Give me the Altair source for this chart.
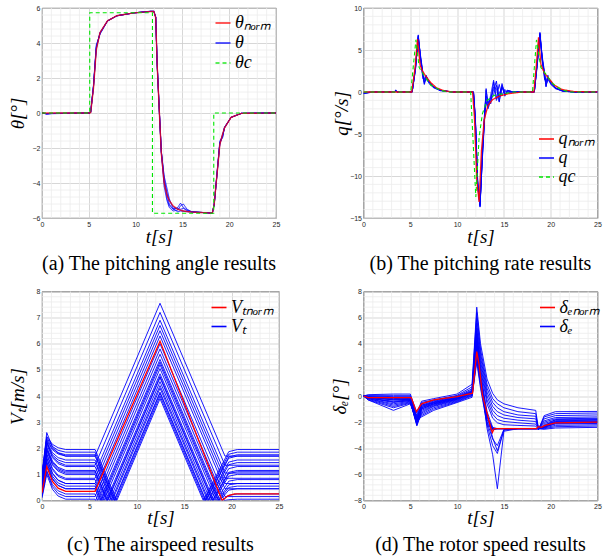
import altair as alt
import pandas as pd

SERIF = "Liberation Serif"
SANS = "Liberation Sans"
BLUE = "#0000ff"
RED = "#ff0000"
GREEN = "#00e600"

# ---------------- (a) pitching angle ----------------
a_names = ["θₙₒᵣₘ", "θ", "θc"]
a_t = [0, 0.5, 1.0, 5.1, 5.2, 5.5, 5.8, 6.2, 7.0, 8.0, 9.8, 11.6, 11.95, 12.15, 12.3,
       12.55, 12.75, 13.05, 13.35, 13.6, 14.0, 14.5, 14.8, 15.1, 15.5, 16.0, 18.2, 18.4,
       18.7, 19.0, 19.3, 19.5, 20.2, 21.3, 25]
a_norm = [0, 0, 0, 0, 0.03, 1.4, 3.6, 4.6, 5.27, 5.56, 5.72, 5.8, 5.8, 5.45, 2.8,
          -0.1, -2.3, -4.0, -4.7, -5.0, -5.3, -5.5, -5.55, -5.6, -5.63, -5.66, -5.72, -5.2,
          -3.5, -1.8, -1.2, -0.85, -0.25, -0.02, 0]
a_blue = [
    [0, -0.06, -0.04, 0, 0.05, 1.6, 3.9, 4.5, 5.25, 5.55, 5.72, 5.82, 5.82, 5.5, 2.9,
     0.0, -2.2, -3.7, -4.6, -5.0, -5.35, -5.5, -5.56, -5.6, -5.63, -5.66, -5.72, -5.25,
     -3.4, -1.6, -1.35, -0.8, -0.25, -0.02, 0],
    [0, -0.04, -0.02, 0, 0.04, 1.5, 3.8, 4.55, 5.26, 5.56, 5.72, 5.81, 5.81, 5.48, 2.85,
     -0.05, -2.25, -3.9, -4.9, -5.3, -5.5, -5.4, -5.15, -5.4, -5.55, -5.65, -5.72, -5.22,
     -3.45, -1.7, -1.25, -0.85, -0.25, -0.02, 0],
    [0, -0.05, -0.03, 0, 0.04, 1.5, 3.7, 4.6, 5.27, 5.56, 5.72, 5.8, 5.8, 5.46, 2.8,
     -0.1, -2.3, -4.2, -5.0, -5.4, -5.6, -5.55, -5.3, -5.2, -5.5, -5.64, -5.72, -5.2,
     -3.5, -1.75, -1.2, -0.85, -0.25, -0.02, 0],
    [0, -0.03, -0.02, 0, 0.03, 1.45, 3.65, 4.6, 5.27, 5.56, 5.72, 5.8, 5.8, 5.47, 2.8,
     -0.1, -2.2, -3.6, -4.3, -4.9, -5.45, -5.65, -5.6, -5.62, -5.64, -5.66, -5.72, -5.2,
     -3.5, -1.8, -1.3, -0.85, -0.25, -0.02, 0],
    [0, -0.05, -0.03, 0, 0.04, 1.55, 3.75, 4.55, 5.26, 5.55, 5.72, 5.81, 5.81, 5.47, 2.85,
     -0.05, -2.25, -3.9, -4.6, -5.2, -5.5, -5.45, -5.5, -5.45, -5.58, -5.65, -5.72, -5.22,
     -3.5, -1.7, -1.4, -0.82, -0.25, -0.02, 0],
]
a_cmd_t = [0, 5.1, 5.1, 11.8, 11.8, 18.35, 18.35, 25]
a_cmd_v = [0, 0, 5.73, 5.73, -5.73, -5.73, 0, 0]

# ---------------- (b) pitching rate ----------------
b_names = ["qₙₒᵣₘ", "q", "qc"]
b_norm_t = [0, 5.15, 5.5, 5.77, 6.05, 6.3, 6.7, 7.2, 7.8, 8.6, 9.5, 11.65, 11.85, 12.1, 12.35,
            12.6, 12.9, 13.3, 13.8, 14.5, 15.5, 17.0, 18.2, 18.45, 18.7, 18.95, 19.3, 19.8,
            20.4, 21.2, 22.5, 25]
b_norm_v = [0, 0, 2.8, 6.3, 3.2, 2.5, 1.8, 1.1, 0.5, 0.15, 0, 0, -3.0, -10.5, -13.1,
            -7.0, -3.3, -1.6, -0.9, -0.5, -0.2, 0, 0, 3.0, 6.5, 3.3, 2.3, 1.6,
            0.8, 0.3, 0.05, 0]
b_t = [0, 0.3, 1.0, 3.3, 3.45, 3.6, 5.2, 5.55, 5.85, 6.1, 6.35, 6.5, 6.7, 7.0, 7.5, 8.2, 9.5,
       11.75, 11.95, 12.2, 12.45, 12.7, 12.95, 13.1, 13.3, 13.6, 13.9, 14.2, 14.5, 14.8, 15.1,
       15.4, 16.0, 18.25, 18.55, 18.85, 19.1, 19.35, 19.5, 19.7, 20.0, 20.5, 21.3, 22.5, 25]
b_blue = [
    [-0.2, -0.15, 0, 0, 0.25, 0, 0, 3.0, 6.8, 4.0, 2.0, 1.0, 1.9, 1.3, 0.6, 0.2, 0,
     0, -3.5, -11, -13.7, -7.5, -2.5, 0.4, -1.6, -0.6, 0.2, 1.3, -1.1, 1.0, -0.5, 0.2, 0,
     0, 3.5, 7.1, 4.0, 2.0, 0.6, 1.8, 1.2, 0.5, 0.15, 0, 0],
    [-0.1, -0.1, 0, 0, 0.1, 0, 0, 2.6, 6.5, 4.3, 2.3, 1.6, 1.7, 1.2, 0.6, 0.2, 0,
     0, -3.0, -10.5, -13.3, -8.0, -3.0, -1.2, -2.0, -1.0, -0.3, 0.8, -0.6, 0.5, -0.2, 0.1, 0,
     0, 3.0, 6.8, 4.2, 2.3, 1.2, 1.6, 1.0, 0.45, 0.1, 0, 0],
    [-0.15, -0.1, 0.05, 0, 0.15, 0, 0, 2.8, 6.6, 3.8, 1.6, 1.4, 2.0, 1.0, 0.5, 0.15, 0,
     0, -3.2, -10.8, -13.5, -7.0, -2.2, -0.5, -1.0, -1.4, 1.2, -0.8, 0.9, -0.4, 0.3, -0.1, 0,
     0, 3.2, 6.9, 3.6, 1.5, 1.3, 2.0, 0.9, 0.4, 0.1, 0, 0],
    [-0.1, 0, 0, 0.05, 0.2, 0.05, 0, 2.7, 6.4, 4.1, 2.1, 1.2, 1.5, 1.1, 0.55, 0.2, 0,
     0, -3.3, -10.9, -13.4, -7.2, -2.8, -0.8, -1.8, -0.3, 1.4, -1.0, -0.2, 0.6, -0.3, 0.1, 0,
     0, 3.3, 6.6, 3.9, 1.8, 0.9, 1.4, 1.1, 0.45, 0.1, 0, 0],
    [-0.2, -0.1, 0, 0, 0.1, 0, 0, 2.9, 6.7, 3.9, 1.8, 0.9, 1.8, 1.2, 0.6, 0.2, 0,
     0, -3.4, -11.2, -13.6, -7.8, -2.6, 0.2, -1.3, -0.9, 0.6, 0.4, -1.2, 0.8, 0.0, 0.2, 0,
     0, 3.4, 7.0, 3.8, 2.1, 0.7, 1.7, 1.3, 0.5, 0.15, 0, 0],
]
b_cmd_t = [0, 5.05, 5.6, 5.95, 6.45, 7.2, 8.25, 9.0, 11.45, 12.0, 12.35, 12.7, 13.2, 13.95,
           15.0, 16.0, 18.05, 18.48, 18.95, 19.5, 20.2, 21.1, 22.0, 25]
b_cmd_v = [0, 0, 6.2, 2.9, 2.0, 0.8, 0.2, 0, 0, -12.5, -5.4, -2.6, -1.0, -0.4,
           -0.2, 0, 0, 6.2, 2.9, 2.1, 1.0, 0.3, 0, 0]

# ---------------- (c) airspeed ----------------
c_names = ["Vₜₙₒᵣₘ", "Vₜ"]
c_norm_t = [0, 0.5, 1.1, 1.7, 2.5, 5.6, 12.45, 19.0, 19.6, 20.3, 25]
c_norm_v = [0.3, 1.3, 0.73, 0.47, 0.35, 0.35, 6.1, 0, 0.18, 0.25, 0.25]
# one entry per blue run
c_start = [0.9, 0.75, 0.6, 0.5, 0.4, 0.3, 0.15,
           0.2, 0.3, 0.35, 0.4, 0.5, 0.55, 0.6, 0.65, 0.7, 0.8, 0.85, 0.9, 0.95, 1.0, 1.05, 0.1]
c_bump = [2.6, 2.25, 1.95, 1.8, 1.6, 1.45, 1.1,
          1.15, 1.35, 1.5, 1.65, 1.75, 1.9, 2.0, 2.05, 2.15, 2.2, 2.25, 2.3, 2.35, 2.4, 2.45, 1.0]
c_mid1 = [2.05, 1.7, 1.4, 1.23, 1.03, 0.85, 0.53,
          0.61, 0.81, 0.93, 1.05, 1.18, 1.36, 1.46, 1.51, 1.64, 1.75, 1.83, 1.94, 1.99, 2.07, 2.15, 0.43]
c_mid2 = [1.82, 1.47, 1.17, 0.97, 0.77, 0.58, 0.27,
          0.37, 0.57, 0.67, 0.78, 0.92, 1.12, 1.22, 1.27, 1.41, 1.55, 1.64, 1.78, 1.83, 1.92, 2.02, 0.17]
c_plateau = [1.7, 1.35, 1.05, 0.85, 0.65, 0.45, 0.15,
             0.25, 0.45, 0.55, 0.65, 0.8, 1.0, 1.1, 1.15, 1.3, 1.45, 1.55, 1.7, 1.75, 1.85, 1.95, 0.05]
c_dip = [None] * 7 + [5.89, 6.13, 6.25, 6.36, 6.54, 6.78, 6.89, 6.95, 7.13, 7.31, 7.42, 7.6,
                      7.66, 7.78, 7.89, 5.66]
c_peak = [7.55, 7.2, 6.9, 6.7, 6.5, 6.3, 6.0,
          5.6, 5.4, 5.3, 5.2, 5.05, 4.85, 4.75, 4.7, 4.55, 4.4, 4.3, 4.15, 4.1, 4.0, 3.9, 5.8]
c_zero = [None] * 7 + [19.01, 18.77, 18.65, 18.54, 18.36, 18.12, 18.01, 17.95, 17.77, 17.59,
                       17.48, 17.3, 17.24, 17.12, 17.01, 19.24]
c_knee = [None] * 7 + [0.2, 0.4, 0.5, 0.6, 0.74, 0.93, 1.03, 1.08, 1.22, 1.37, 1.47, 1.62,
                       1.67, 1.77, 1.87, 0.03]

# ---------------- (d) elevator / rotor ----------------
d_names = ["δₑₙₒᵣₘ", "δₑ"]
d_norm_t = [0, 0.5, 5.1, 5.65, 6.2, 7.5, 10, 11.65, 12.1, 12.35, 12.7, 13.6, 13.77, 13.95,
            18.5, 18.65, 19.0, 19.4, 20.5, 25]
d_norm_v = [0, -0.12, -0.12, -1.2, -0.6, -0.3, -0.05, 0.22, 3.4, 2.4, 0.1, -2.45, -2.8, -2.5,
            -2.5, -2.35, -2.4, -2.25, -2.05, -2.0]
d_t = [0, 0.5, 3.2, 5.0, 5.7, 6.2, 7.5, 10.0, 11.6, 12.1, 12.5, 13.2, 13.8, 14.3, 15.0, 16.5,
       18.4, 18.7, 19.3, 20.5, 25]
d_blue = [
    [0, 0.1, 0.15, 0.15, -1.3, -0.4, -0.2, 0.15, 0.9, 6.8, 4.0, 1.3, 0.2, -0.3, -0.6, -0.9, -1.1, -2.6, -1.5, -1.2, -1.18],
    [0, 0.05, 0.05, 0.05, -1.5, -0.5, -0.3, 0.05, 0.7, 6.4, 3.6, 0.9, -0.2, -0.6, -0.9, -1.2, -1.35, -2.55, -1.6, -1.35, -1.3],
    [0, 0, -0.05, -0.05, -1.7, -0.6, -0.35, 0.0, 0.55, 6.0, 3.3, 0.6, -0.5, -0.9, -1.2, -1.45, -1.55, -2.5, -1.75, -1.5, -1.45],
    [0, -0.05, -0.1, -0.1, -1.8, -0.7, -0.4, -0.05, 0.45, 5.6, 3.0, 0.3, -0.8, -1.2, -1.45, -1.65, -1.75, -2.5, -1.9, -1.65, -1.6],
    [0, -0.1, -0.2, -0.15, -1.9, -0.8, -0.45, -0.1, 0.35, 5.2, 2.7, 0.0, -1.1, -1.5, -1.7, -1.85, -1.95, -2.5, -2.0, -1.75, -1.7],
    [0, -0.1, -0.3, -0.25, -2.0, -0.9, -0.5, -0.15, 0.3, 4.8, 2.4, -0.3, -1.4, -1.8, -1.95, -2.05, -2.15, -2.5, -2.1, -1.85, -1.8],
    [0, -0.15, -0.4, -0.3, -2.1, -1.0, -0.6, -0.2, 0.25, 4.4, 2.1, -0.6, -1.7, -2.05, -2.2, -2.25, -2.3, -2.55, -2.2, -1.95, -1.9],
    [0, -0.15, -0.5, -0.35, -2.2, -1.1, -0.7, -0.25, 0.2, 4.0, 1.6, -1.2, -2.4, -2.5, -2.5, -2.5, -2.5, -2.5, -2.3, -2.0, -1.95],
    [0, -0.2, -0.6, -0.4, -2.3, -1.2, -0.75, -0.3, 0.15, 3.6, 1.3, -1.5, -2.5, -2.5, -2.5, -2.5, -2.5, -2.45, -2.35, -2.05, -2.05],
    [0, -0.2, -0.7, -0.45, -2.2, -1.3, -0.8, -0.35, 0.1, 3.2, 1.0, -1.8, -2.55, -2.5, -2.5, -2.5, -2.5, -2.5, -2.4, -2.15, -2.1],
    [0, -0.25, -0.8, -0.5, -2.1, -1.4, -0.9, -0.4, 0.05, 2.8, 0.8, -2.0, -2.6, -2.5, -2.5, -2.5, -2.5, -2.5, -2.45, -2.25, -2.2],
    [0, -0.3, -0.9, -0.55, -2.0, -1.5, -1.0, -0.45, 0.0, 2.6, 0.6, -2.2, -2.5, -2.5, -2.5, -2.5, -2.5, -2.5, -2.5, -2.35, -2.3],
    [0, -0.3, -1.1, -0.6, -1.9, -1.6, -1.1, -0.5, -0.1, 3.0, 1.1, -1.6, -2.5, -2.5, -2.5, -2.5, -2.5, -2.5, -2.55, -2.45, -2.4],
    [0, -0.05, -0.15, -0.2, -1.6, -0.7, -0.5, -0.1, 0.4, 5.0, 2.0, -1.5, -3.2, -4.2, -2.6, -2.5, -2.5, -2.5, -2.3, -1.8, -1.75],
    [0, -0.1, -0.25, -0.25, -1.8, -0.8, -0.55, -0.15, 0.3, 4.6, 1.5, -2.5, -4.5, -7.1, -2.7, -2.5, -2.5, -2.5, -2.35, -1.9, -1.85],
    [0, -0.1, -0.3, -0.3, -2.0, -0.9, -0.6, -0.2, 0.3, 4.2, 1.4, -2.2, -3.8, -4.4, -2.6, -2.5, -2.5, -2.5, -2.4, -2.0, -2.0],
    [0, -0.15, -0.45, -0.35, -2.1, -1.0, -0.65, -0.25, 0.2, 3.8, 1.2, -2.0, -3.3, -3.8, -2.55, -2.5, -2.5, -2.5, -2.4, -2.1, -2.05],
]


# ---------------- helpers ----------------
def add(rows, kind, name, line, ts, vs):
    assert len(ts) == len(vs), (line, len(ts), len(vs))
    for i, (t, v) in enumerate(zip(ts, vs)):
        rows.append({"t": t, "v": v, "kind": kind, "name": name, "line": line, "i": i})


def steps(lo, hi, step):
    n = int(round((hi - lo) / step))
    return [round(lo + k * step, 3) for k in range(n + 1)]


def minors(lo, hi, major):
    out = []
    for v in steps(lo, hi, major / 5):
        r = v / major
        if abs(r - round(r)) > 1e-6:
            out.append(v)
    return out


def panel(rows, names, colors, dashes, ylo, yhi, ymajor, ytitle, ytpad, xtpad, caption, cap_off,
          lx, ly, rowpad, width, height, layers):
    df = pd.DataFrame(rows)
    x_axis = alt.Axis(values=steps(0, 25, 5), format="d", title="t[s]", titlePadding=xtpad,
                      gridColor="#cdcdcd", labelFlush=False, labelOverlap=False)
    y_axis = alt.Axis(values=steps(ylo, yhi, ymajor), format="d", title=ytitle, titlePadding=ytpad,
                      gridColor="#cdcdcd", minExtent=6, maxExtent=6, labelFlush=False, labelOverlap=False)
    xs = alt.Scale(domain=[0, 25], nice=False, zero=False)
    ys = alt.Scale(domain=[ylo, yhi], nice=False, zero=False)
    legend = alt.Legend(title=None, orient="none", legendX=lx, legendY=ly,
                        labelFont=SERIF, labelFontSize=18, labelFontStyle="italic",
                        labelColor="#000000", symbolType="stroke", symbolSize=225,
                        symbolStrokeWidth=1.6, rowPadding=rowpad, labelOffset=3, padding=0)
    enc = dict(
        x=alt.X("t:Q", scale=xs, axis=x_axis),
        y=alt.Y("v:Q", scale=ys, axis=y_axis),
        color=alt.Color("name:N", scale=alt.Scale(domain=names, range=colors), legend=legend, sort=names),
        detail=alt.Detail("line:N"),
        order=alt.Order("i:Q"),
    )
    if dashes:
        enc["strokeDash"] = alt.StrokeDash("name:N", scale=alt.Scale(domain=names, range=dashes),
                                           legend=legend, sort=names)
    gx = alt.Chart(pd.DataFrame({"t": minors(0, 25, 5)})).mark_rule(
        color="#ececec", strokeWidth=0.8).encode(x=alt.X("t:Q", scale=xs, axis=x_axis))
    gy = alt.Chart(pd.DataFrame({"v": minors(ylo, yhi, ymajor)})).mark_rule(
        color="#ececec", strokeWidth=0.8).encode(y=alt.Y("v:Q", scale=ys, axis=y_axis))
    base = alt.Chart(df).encode(**enc)
    charts = [base.transform_filter(alt.datum.kind == kind).mark_line(strokeWidth=w, opacity=op, clip=True)
              for kind, w, op in layers]
    return alt.layer(gx, gy, *charts).properties(
        width=width, height=height,
        title=alt.TitleParams(caption, orient="bottom", anchor="middle", frame="group", offset=cap_off,
                              fontSize=20, font=SERIF, fontWeight="normal", color="#000000"))


# ---- build rows ----
ra = []
for k, vals in enumerate(a_blue):
    add(ra, "blue", a_names[1], f"a{k}", a_t, vals)
add(ra, "red", a_names[0], "anorm", a_t, a_norm)
add(ra, "green", a_names[2], "acmd", a_cmd_t, a_cmd_v)

rb = []
for k, vals in enumerate(b_blue):
    add(rb, "blue", b_names[1], f"b{k}", b_t, vals)
add(rb, "red", b_names[0], "bnorm", b_norm_t, b_norm_v)
add(rb, "green", b_names[2], "bcmd", b_cmd_t, b_cmd_v)

rc = []
for k in range(len(c_plateau)):
    p = c_plateau[k]
    ts = [0, 0.5, 1.1, 1.7, 2.5, 5.6]
    vs = [c_start[k], c_bump[k], c_mid1[k], c_mid2[k], p, p]
    if c_dip[k] is not None:
        ts.append(c_dip[k]); vs.append(0)
    ts.append(12.45); vs.append(c_peak[k])
    if c_zero[k] is None:
        ts += [19.3, 25]; vs += [p, p]
    else:
        ts += [c_zero[k], 19.7, 20.6, 25]; vs += [0, c_knee[k], p, p]
    add(rc, "blue", c_names[1], f"c{k}", ts, vs)
add(rc, "red", c_names[0], "cnorm", c_norm_t, c_norm_v)

rd = []
for k, vals in enumerate(d_blue):
    add(rd, "blue", d_names[1], f"d{k}", d_t, vals)
add(rd, "red", d_names[0], "dnorm", d_norm_t, d_norm_v)

pa = panel(ra, a_names, [RED, BLUE, GREEN], [[1, 0], [1, 0], [4, 3]], -6, 6, 2, "θ[°]", 9, 0,
           "(a) The pitching angle results", 8, 172, 6, 2, 234, 210,
           [("blue", 1.0, 0.85), ("red", 1.4, 0.75), ("green", 1.1, 1.0)])
pb = panel(rb, b_names, [RED, BLUE, GREEN], [[1, 0], [1, 0], [4, 3]], -15, 10, 5, "q[°/s]", 6.5, 0,
           "(b) The pitching rate results", 8, 174, 122, 1, 234, 210,
           [("blue", 1.0, 1.0), ("red", 1.3, 0.9), ("green", 1.1, 1.0)])
pc = panel(rc, c_names, [RED, BLUE], None, 0, 8, 1, "Vₜ[m/s]", 9, -1.5,
           "(c) The airspeed results", 8, 168, 7, 1, 237, 209,
           [("blue", 0.9, 1.0), ("red", 1.3, 1.0)])
pd_ = panel(rd, d_names, [RED, BLUE], None, -8, 8, 2, "δₑ[°]", 8.5, -1.5,
            "(d) The rotor speed results", 8, 175, 7, 1, 234, 209,
            [("blue", 0.9, 1.0), ("red", 1.3, 1.0)])

row1 = (alt.hconcat(pa, pb, spacing=50.5)
        .resolve_scale(color="independent", strokeDash="independent")
        .resolve_legend(color="independent", strokeDash="independent"))
row2 = (alt.hconcat(pc, pd_, spacing=45.5)
        .resolve_scale(color="independent")
        .resolve_legend(color="independent"))

chart = (
    alt.vconcat(row1, row2, spacing=11.5)
    .resolve_scale(color="independent", strokeDash="independent")
    .resolve_legend(color="independent", strokeDash="independent")
    .properties(padding={"left": 7, "top": 3, "right": 2, "bottom": 0}, background="white")
    .configure_view(stroke="#333333", strokeWidth=0.8)
    .configure_axis(labelFont=SANS, labelFontSize=7, labelColor="#262626", ticks=False, domain=False,
                    labelPadding=2, gridWidth=0.8,
                    titleFont=SERIF, titleFontSize=19, titleFontStyle="italic", titleFontWeight="normal",
                    titleColor="#000000")
)

chart.save("out.html", embed_options={"renderer": "svg", "actions": False})
